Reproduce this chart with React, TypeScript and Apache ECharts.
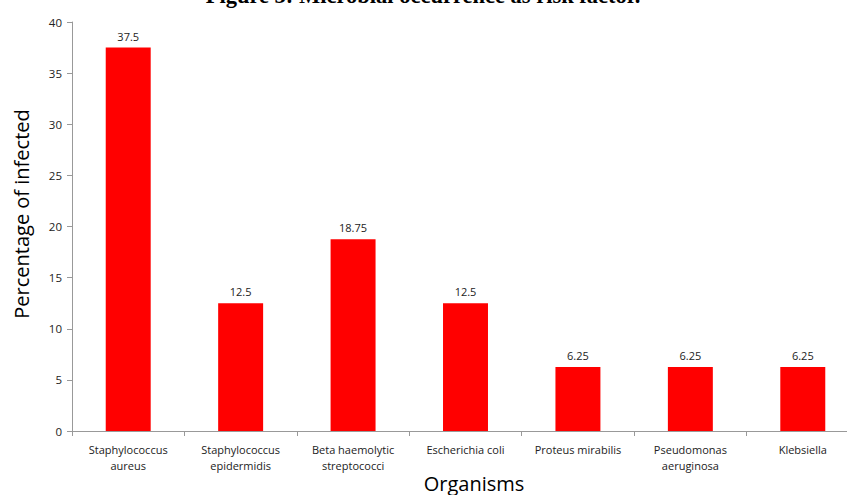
import React, { useEffect, useRef } from "react";
import * as echarts from "echarts";

const categories = [
  "Staphylococcus\naureus",
  "Staphylococcus\nepidermidis",
  "Beta haemolytic\nstreptococci",
  "Escherichia coli",
  "Proteus mirabilis",
  "Pseudomonas\naeruginosa",
  "Klebsiella",
];
const values = [37.5, 12.5, 18.75, 12.5, 6.25, 6.25, 6.25];
const titleText = "Figure 3: Microbial occurrence as risk factor.";
const yName = "Percentage of infected";
const xName = "Organisms";

export default function App() {
  const ref = useRef<HTMLDivElement>(null);
  useEffect(() => {
    const chart = echarts.init(ref.current!, null, { renderer: "svg" });
    const font = "'Open Sans', 'Liberation Sans', sans-serif";
    chart.setOption({
      animation: false,
      backgroundColor: "#fff",
      graphic: [
        {
          type: "text",
          x: 423,
          y: -16,
          style: {
            text: titleText,
            align: "center",
            verticalAlign: "top",
            fontFamily: "'Liberation Serif', serif",
            fontWeight: "bold",
            fontSize: 22.5,
            fill: "#000",
          },
        },
        {
          type: "text",
          x: 21,
          y: 214,
          rotation: Math.PI / 2,
          style: {
            text: yName,
            align: "center",
            verticalAlign: "middle",
            fontFamily: font,
            fontSize: 20,
            fill: "#000",
          },
        },
        {
          type: "text",
          x: 474,
          y: 483,
          style: {
            text: xName,
            align: "center",
            verticalAlign: "middle",
            fontFamily: font,
            fontSize: 20,
            fill: "#000",
          },
        },
      ],
      grid: { left: 72, top: 22, height: 409, width: 787, outerBoundsMode: "none", containLabel: false },
      xAxis: {
        type: "category",
        data: categories,
        axisLine: { lineStyle: { color: "#999" } },
        axisTick: { show: true, alignWithLabel: false, length: 5, lineStyle: { color: "#999" } },
        axisLabel: {
          interval: 0,
          fontFamily: font,
          fontSize: 11,
          color: "#222",
          lineHeight: 16,
          margin: 10,
        },
      },
      yAxis: {
        type: "value",
        min: 0,
        max: 40,
        interval: 5,
        splitLine: { show: false },
        axisLine: { show: true, lineStyle: { color: "#999" } },
        axisTick: { show: true, length: 5, lineStyle: { color: "#999" } },
        axisLabel: { fontFamily: font, fontSize: 11.5, color: "#222", margin: 10 },
      },
      series: [
        {
          type: "bar",
          data: values,
          barWidth: "40%",
          itemStyle: { color: "#ff0000" },
          label: {
            show: true,
            position: "top",
            distance: 6,
            fontFamily: font,
            fontSize: 11,
            color: "#222",
          },
        },
      ],
    });
    return () => chart.dispose();
  }, []);
  return (
    <div
      ref={ref}
      style={{ position: "fixed", left: 0, top: 0, width: 847, height: 495 }}
    />
  );
}
